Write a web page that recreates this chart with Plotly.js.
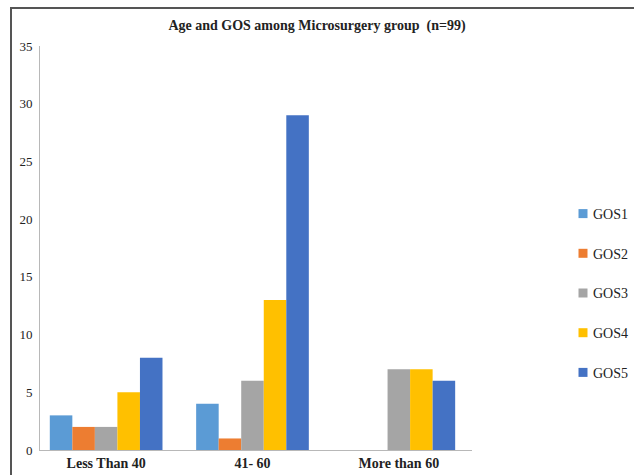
<!DOCTYPE html>
<html>
<head>
<meta charset="utf-8">
<script src="https://cdn.plot.ly/plotly-3.0.1.min.js"></script>
<style>
  html, body { margin: 0; padding: 0; background: #fff; }
  #frame { position: absolute; left: 10px; top: 7px; width: 700px; height: 600px;
           border-top: 2px solid #555; border-left: 2px solid #555; }
  #chart { position: absolute; left: 0; top: 0; width: 634px; height: 475px; }
  #chart .legendpoints path {
    transform-box: fill-box; transform-origin: center;
    transform: translate(30px, 0) scale(0.75);
  }
</style>
</head>
<body>
<div id="frame"></div>
<div id="chart"></div>
<script>
const categories = ["Less Than 40", "41- 60", "More than 60"];
const seriesNames = ["GOS1", "GOS2", "GOS3", "GOS4", "GOS5"];
const gos1 = [3, 4, 0];
const gos2 = [2, 1, 0];
const gos3 = [2, 6, 7];
const gos4 = [5, 13, 7];
const gos5 = [8, 29, 6];
const yTicks = [0, 5, 10, 15, 20, 25, 30, 35];

const seriesValues = [gos1, gos2, gos3, gos4, gos5];
const colors = ["#5B9BD5", "#ED7D31", "#A5A5A5", "#FFC000", "#4472C4"];
const serif = "'Liberation Serif', 'Times New Roman', Times, serif";

const traces = seriesNames.map((name, i) => ({
  type: "bar",
  name: name,
  x: categories,
  y: seriesValues[i],
  marker: { color: colors[i] },
  legendgroup: name,
  hoverinfo: "x+y+name"
}));

const layout = {
  width: 634,
  height: 475,
  paper_bgcolor: "rgba(0,0,0,0)",
  plot_bgcolor: "rgba(0,0,0,0)",
  margin: { l: 40, r: 162, t: 46, b: 25, pad: 0, autoexpand: false },
  barmode: "group",
  bargap: 0.23,
  bargroupgap: 0,
  title: {
    text: "<b>Age and GOS among Microsurgery group  (n=99)</b>",
    font: { family: serif, size: 14, color: "#222" },
    xref: "container", x: 0.5, xanchor: "center",
    yref: "container", y: 1 - 25 / 475, yanchor: "middle"
  },
  xaxis: {
    type: "category",
    range: [-0.452, 2.5],
    showgrid: false,
    zeroline: false,
    showline: true,
    linecolor: "#b8b8b8",
    linewidth: 1,
    ticks: "",
    ticklabelstandoff: 0,
    tickfont: { family: serif, size: 14, color: "#222", weight: "bold" },
    fixedrange: true
  },
  yaxis: {
    range: [0, 35],
    tickvals: yTicks,
    ticktext: yTicks.map(String),
    showgrid: false,
    zeroline: false,
    showline: true,
    linecolor: "#b8b8b8",
    linewidth: 1,
    ticks: "",
    ticklabelstandoff: 4,
    tickfont: { family: serif, size: 13, color: "#222" },
    fixedrange: true
  },
  showlegend: true,
  legend: {
    xref: "container", x: 553 / 634, xanchor: "left",
    yref: "container", y: 1 - 198 / 475, yanchor: "top",
    orientation: "v",
    tracegroupgap: 18.5,
    font: { family: serif, size: 14, color: "#222" },
    bgcolor: "rgba(0,0,0,0)",
    itemwidth: 30
  }
};

Plotly.newPlot("chart", traces, layout, { displayModeBar: false, staticPlot: true });
</script>
</body>
</html>
